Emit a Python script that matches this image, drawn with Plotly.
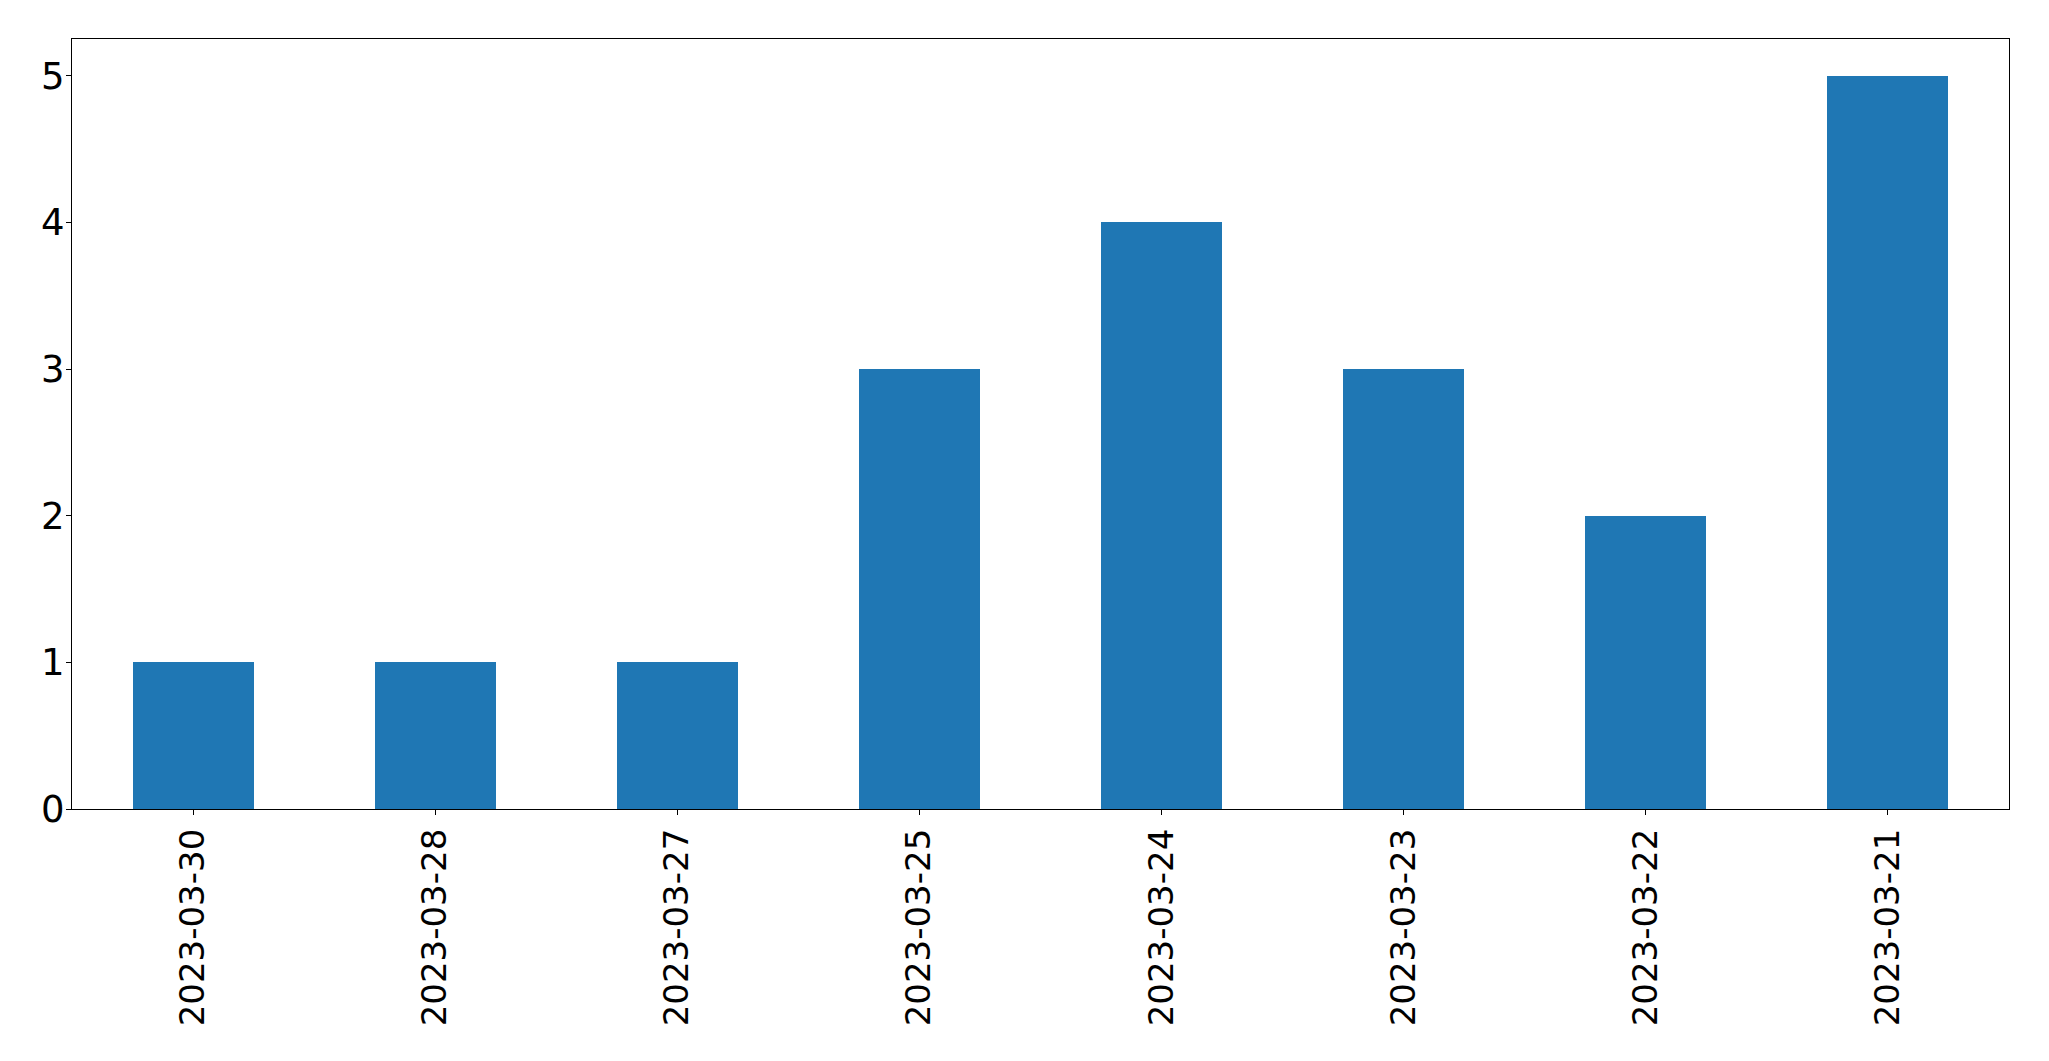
import plotly.graph_objects as go

categories = ["2023-03-30", "2023-03-28", "2023-03-27", "2023-03-25",
              "2023-03-24", "2023-03-23", "2023-03-22", "2023-03-21"]
values = [1, 1, 1, 3, 4, 3, 2, 5]
y_ticks = [0, 1, 2, 3, 4, 5]

fig = go.Figure(go.Bar(
    x=list(range(len(categories))), y=values, width=0.5,
    marker=dict(color="#1f77b4", line=dict(width=0)),
))

xfont = dict(family="DejaVu Sans", size=34, color="black")
yfont = dict(family="DejaVu Sans", size=37, color="black")
fig.update_layout(
    width=2041, height=1053,
    margin=dict(l=64, r=40, t=31, b=252, autoexpand=False),
    paper_bgcolor="white", plot_bgcolor="white",
    showlegend=False, font=xfont, bargap=0,
)
fig.update_xaxes(
    range=[-0.5, len(categories) - 0.5],
    tickmode="array", tickvals=list(range(len(categories))), ticktext=categories,
    tickangle=-90, ticks="outside", ticklen=5, tickwidth=1.3, tickcolor="black",
    showline=True, linecolor="black", linewidth=1.3, mirror=True,
    showgrid=False, zeroline=False, tickfont=xfont, ticklabelstandoff=0,
)
fig.update_yaxes(
    range=[0, 5.25], tickmode="array", tickvals=y_ticks,
    ticks="outside", ticklen=5, tickwidth=1.3, tickcolor="black",
    showline=True, linecolor="black", linewidth=1.3, mirror=True,
    showgrid=False, zeroline=False, tickfont=yfont, ticklabelstandoff=-6,
)
fig.write_html("out.html")
